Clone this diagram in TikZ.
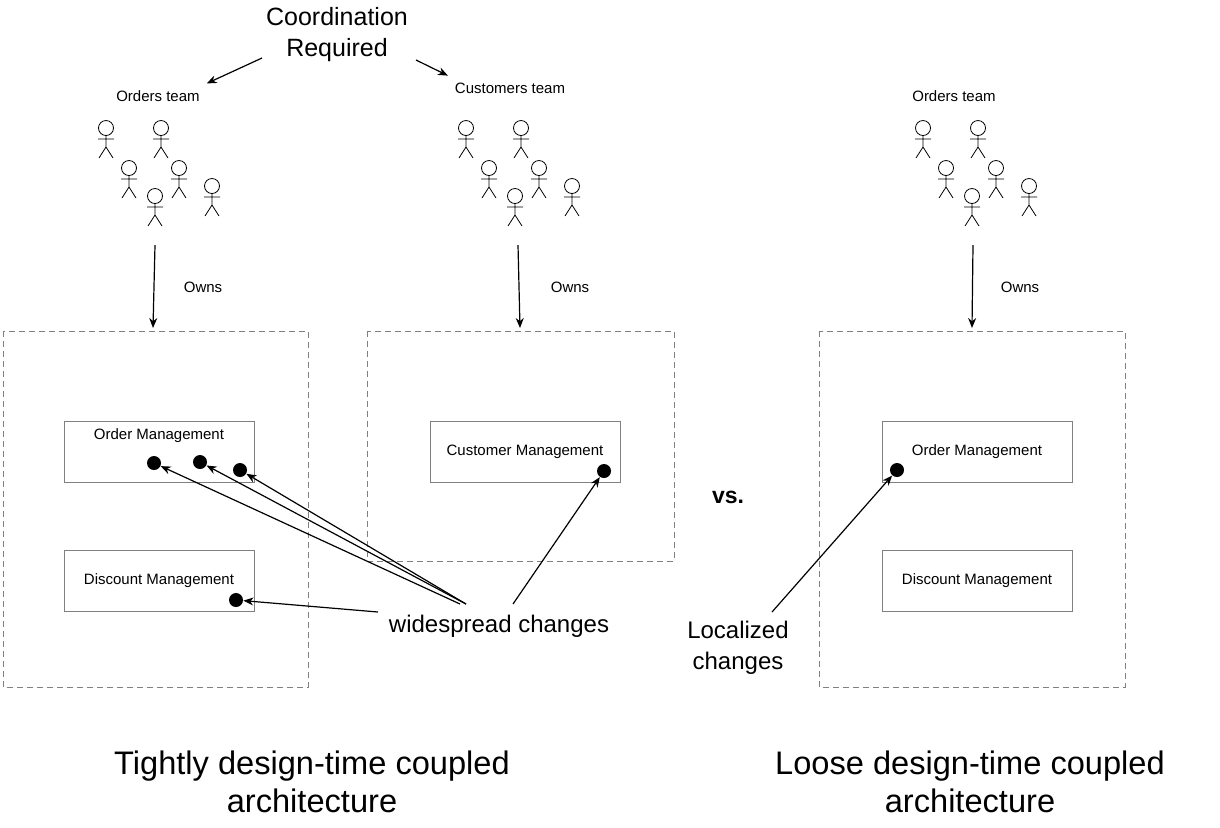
\documentclass[tikz,border=0pt]{standalone}
\usepackage{fontspec}
\setmainfont{Liberation Sans}
\usetikzlibrary{arrows.meta}
\tikzset{
    person/.pic={
        \draw (0,0) circle (7.5);
        \draw (0,7.5) -- (0,19) (-8,11) -- (8,11) (-7,30) -- (0,19) -- (7,30);
    },
    zone/.style={draw=gray, dash pattern=on 3pt off 2pt, thin},
    comp/.style={draw=gray, thin, minimum width=95pt, minimum height=30.5pt, inner sep=0pt},
    spot/.style={circle, fill=black, minimum size=7pt, inner sep=0pt},
    link/.style={-{Stealth[length=5pt,width=4pt]}, semithick},
}
\begin{document}
\begin{tikzpicture}[x=0.5pt,y=-0.5pt,font=\fontsize{7.5}{9}\selectfont]
    %% Background
    \useasboundingbox (0,0) rectangle (1220,827);

    %% Teams
    \foreach \dx in {0,360,817}
    {
        \foreach \px/\py in {106/128,161/128,129/168,179/168,155/196,212/186}
            \pic at (\px+\dx,\py) {person};
    }
    \node (ordTeam) at (158,96) {Orders team};
    \node (cusTeam) at (510,88) {Customers team};
    \node (ordTeamR) at (954,96) {Orders team};

    %% Coordination
    \node[align=center, font=\fontsize{12.5}{15.5}\selectfont] (coord) at (337,35) {Coordination\\Required};
    \coordinate (cL) at (262,58);
    \coordinate (cR) at (416,60);
    \draw[link] (cL) -- (ordTeam.north east);
    \draw[link] (cR) -- (cusTeam.north west);

    %% Zones
    \draw[zone] (3,331) rectangle (308,687);
    \draw[zone] (367,331) rectangle (674,561);
    \draw[zone] (819,331) rectangle (1125,687);

    %% Owns
    \foreach \ax/\bx/\ox/\n in {155/153/203/a,518/520/570/b,973/972/1020/c}
    {
        \coordinate (own\n1) at (\ax,245);
        \coordinate (own\n2) at (\bx,328);
        \draw[link] (own\n1) -- (own\n2);
        \node (ownsLbl\n) at (\ox,287) {Owns};
    }

    %% Components
    \node[comp] (ordMgmt) at (159,452) {};
    \node (ordMgmtLbl) at (159,436) {Order Management};
    \node[comp] (disMgmt) at (159,581) {Discount Management};
    \node[comp] (cusMgmt) at (525,452) {Customer Management};
    \node[comp] (ordMgmtR) at (977,452) {Order Management};
    \node[comp] (disMgmtR) at (977,581) {Discount Management};

    %% Change spots
    \node[spot] (d1) at (154,463) {};
    \node[spot] (d2) at (200,462) {};
    \node[spot] (d3) at (240,470) {};
    \node[spot] (d4) at (236,600) {};
    \node[spot] (d5) at (604,471) {};
    \node[spot] (d6) at (897,470) {};

    %% Changes
    \node[font=\fontsize{12}{14}\selectfont] (wide) at (499,626) {widespread changes};
    \node[align=center, font=\fontsize{12}{15.5}\selectfont] (local) at (738,648) {Localized\\changes};
    \coordinate (w1) at (460,604);
    \coordinate (w2) at (466,604);
    \coordinate (w3) at (378,612);
    \coordinate (w4) at (513,604);
    \coordinate (l1) at (772,612);
    \draw[link] (w1) -- (d1);
    \draw[link] (w2) -- (d2);
    \draw[link] (w2) -- (d3);
    \draw[link] (w3) -- (d4);
    \draw[link] (w4) -- (d5);
    \draw[link] (l1) -- (d6);

    \node[font=\bfseries\fontsize{11.5}{14}\selectfont] (vs) at (728,497) {vs.};

    %% Titles
    \node[align=center, font=\fontsize{16.3}{19}\selectfont] (titleL) at (312,782) {Tightly design-time coupled\\architecture};
    \node[align=center, font=\fontsize{16.3}{19}\selectfont] (titleR) at (970,782) {Loose design-time coupled\\architecture};
\end{tikzpicture}
\end{document}
